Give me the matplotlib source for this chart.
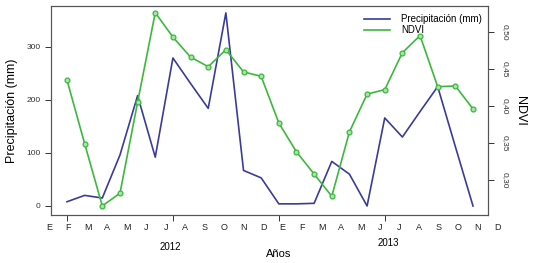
import matplotlib
matplotlib.use("Agg")
import matplotlib.pyplot as plt
from matplotlib.lines import Line2D
import numpy as np

plt.rcParams['font.family'] = ['Liberation Sans', 'DejaVu Sans']

# datos mensuales feb 2012 - ene 2014 (indice de mes)
precip = [8, 20, 15, 96, 208, 92, 279, 231, 184, 364, 67, 53,
          4, 4, 5, 84, 60, 0, 166, 130, 178, 225, 112, 0]
ndvi = [0.435, 0.349, 0.265, 0.282, 0.405, 0.526, 0.493, 0.466, 0.453, 0.476, 0.446, 0.440,
        0.377, 0.338, 0.308, 0.278, 0.365, 0.416, 0.422, 0.472, 0.495, 0.426, 0.427, 0.396]
meses = ['E', 'F', 'M', 'A', 'M', 'J', 'J', 'A', 'S', 'O', 'N', 'D'] * 2
anios = ['2012', '2013']
ndvi_ticks = [0.30, 0.35, 0.40, 0.45, 0.50]

azul = '#3b3b9b'
verde = '#3cb83c'

x = np.arange(len(precip))

fig = plt.figure(figsize=(5.35, 2.63), dpi=100)
ax = fig.add_axes([51/535, 1 - 215/263, 437/535, 209/263])

ax.plot(x, precip, color=azul, lw=1.2)
ax.set_xlim(-0.906, 23.85)
ax.set_ylim(-17, 377)
ax.set_yticks([0, 100, 200, 300])
ax.tick_params(axis='y', labelsize=6, length=4, width=0.7, colors='#333333')
ax.set_xticks([0, 6, 12, 18])
ax.set_xticklabels([])
ax.tick_params(axis='x', length=4, width=0.7, colors='#333333')
ax.set_ylabel('Precipitación (mm)', fontsize=9, labelpad=6)
for s in ax.spines.values():
    s.set_color('#555555')
    s.set_linewidth(0.8)

ax2 = ax.twinx()
ax2.plot(x, ndvi, color=verde, lw=1.2, marker='o', ms=3.5,
         mfc='#a8e4a8', mec=verde, mew=0.9)
ax2.set_ylim(0.2527, 0.535)
ax2.set_yticks(ndvi_ticks)
ax2.set_yticklabels([('%.2f' % v).replace('.', ',') for v in ndvi_ticks],
                    rotation=-90, va='center', fontsize=6, color='#555555')
ax2.tick_params(axis='y', length=4, width=0.7, colors='#333333', pad=6)
ax2.set_ylabel('NDVI', fontsize=9, rotation=-90, labelpad=12)
for s in ax2.spines.values():
    s.set_color('#555555')
    s.set_linewidth(0.8)

handles = [Line2D([], [], color=azul, lw=1.2), Line2D([], [], color=verde, lw=1.2)]
ax2.legend(handles, ['Precipitación (mm)', 'NDVI'], loc='upper right',
           bbox_to_anchor=(1.0, 0.99), frameon=False, fontsize=7,
           handlelength=2.6, handletextpad=1.2, labelspacing=0.15, borderaxespad=0.2)

# letras de los meses bajo el eje
pos = np.linspace(-2/437, 446/437, len(meses))
for p, m in zip(pos, meses):
    ax.text(p, -12/209, m, transform=ax.transAxes, ha='center', va='center',
            fontsize=6.5, color='#222222')
ax.text((170-51)/437, -32/209, anios[0], transform=ax.transAxes, ha='center',
        va='center', fontsize=7)
ax.text((388-51)/437, -28/209, anios[1], transform=ax.transAxes, ha='center',
        va='center', fontsize=7)
ax.text((279-51)/437, -39/209, 'Años', transform=ax.transAxes, ha='center',
        va='center', fontsize=8)

fig.savefig('out.png', dpi=100)
